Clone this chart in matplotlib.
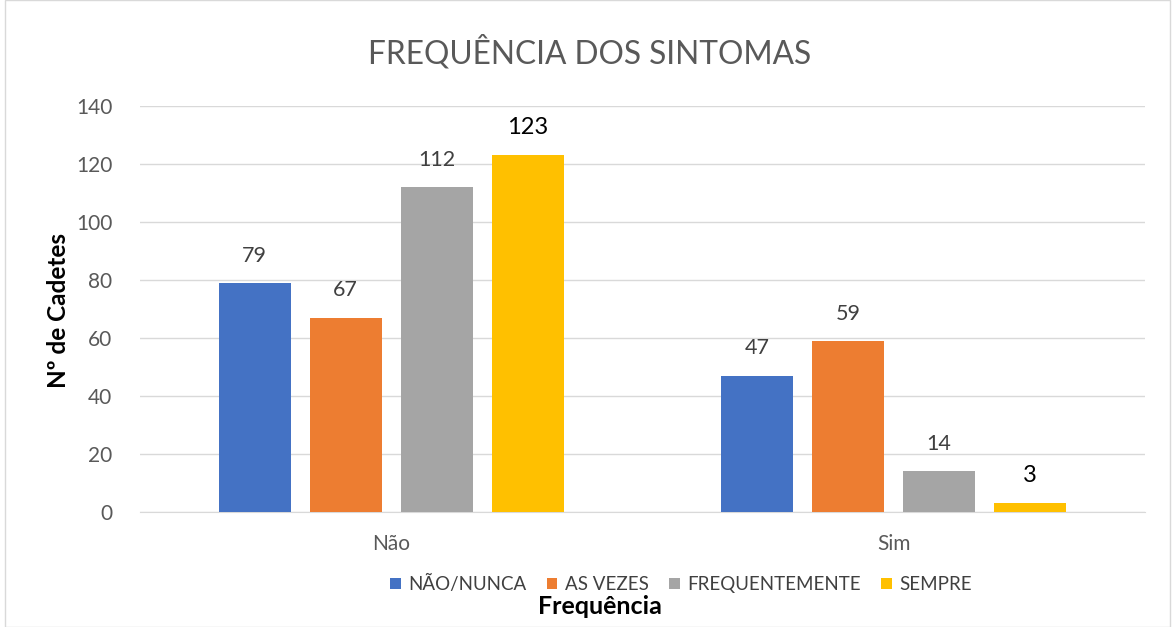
import matplotlib.pyplot as plt
import numpy as np
from matplotlib.patches import Rectangle

plt.rcParams['font.family'] = ['Lato', 'DejaVu Sans']

categories = ['Não', 'Sim']
series = ['NÃO/NUNCA', 'AS VEZES', 'FREQUENTEMENTE', 'SEMPRE']
values = {
    'NÃO/NUNCA': [79, 47],
    'AS VEZES': [67, 59],
    'FREQUENTEMENTE': [112, 14],
    'SEMPRE': [123, 3],
}
colors = ['#4472C4', '#ED7D31', '#A5A5A5', '#FFC000']


def main():
    fig = plt.figure(figsize=(11.73, 6.27), dpi=100)
    ax = fig.add_axes([140 / 1173, 1 - 512 / 627, 1005 / 1173, 406 / 627])

    x = np.arange(len(categories))
    width = 0.143
    step = 0.181
    for i, name in enumerate(series):
        pos = x + (i - 1.5) * step
        bars = ax.bar(pos, values[name], width, color=colors[i], label=name, zorder=3)
        for b, v in zip(bars, values[name]):
            big = name == 'SEMPRE'
            ax.text(b.get_x() + b.get_width() / 2, v + 6, str(v),
                    ha='center', va='bottom',
                    fontsize=17 if big else 15.5,
                    color='black' if big else '#404040')

    ax.set_xlim(-0.5, 1.5)
    ax.set_ylim(0, 140)
    ax.set_yticks(range(0, 141, 20))
    ax.set_xticks(x)
    ax.set_xticklabels(categories)
    ax.tick_params(axis='both', length=0, labelsize=15, colors='#595959')
    ax.tick_params(axis='y', pad=20)
    ax.tick_params(axis='x', pad=16)
    ax.grid(axis='y', color='#d9d9d9', linewidth=1, zorder=0)
    for s in ['top', 'right', 'left']:
        ax.spines[s].set_visible(False)
    ax.spines['bottom'].set_color('#d9d9d9')

    fig.text(58 / 1173, 1 - 310 / 627, 'Nº de Cadetes', fontsize=17.5,
             fontweight='bold', ha='center', va='center', rotation=90)
    fig.text(600 / 1173, 1 - 607 / 627, 'Frequência', fontsize=18,
             fontweight='bold', ha='center', va='center')
    fig.text(590 / 1173, 1 - 52 / 627, 'FREQUÊNCIA DOS SINTOMAS', fontsize=22.8,
             color='#595959', ha='center', va='center')

    fig.legend(loc='center', bbox_to_anchor=(681 / 1173, 1 - 584 / 627), ncol=4,
               frameon=False, fontsize=13.5, handlelength=0.55, handleheight=0.55,
               columnspacing=1.1, handletextpad=0.4, labelcolor='#404040')

    fig.patches.append(Rectangle((5 / 1173, 0), 1165 / 1173, 1, transform=fig.transFigure,
                                 fill=False, edgecolor='#d9d9d9', linewidth=1))

    plt.savefig('out.png')
    plt.close()


if __name__ == "__main__":
    main()
